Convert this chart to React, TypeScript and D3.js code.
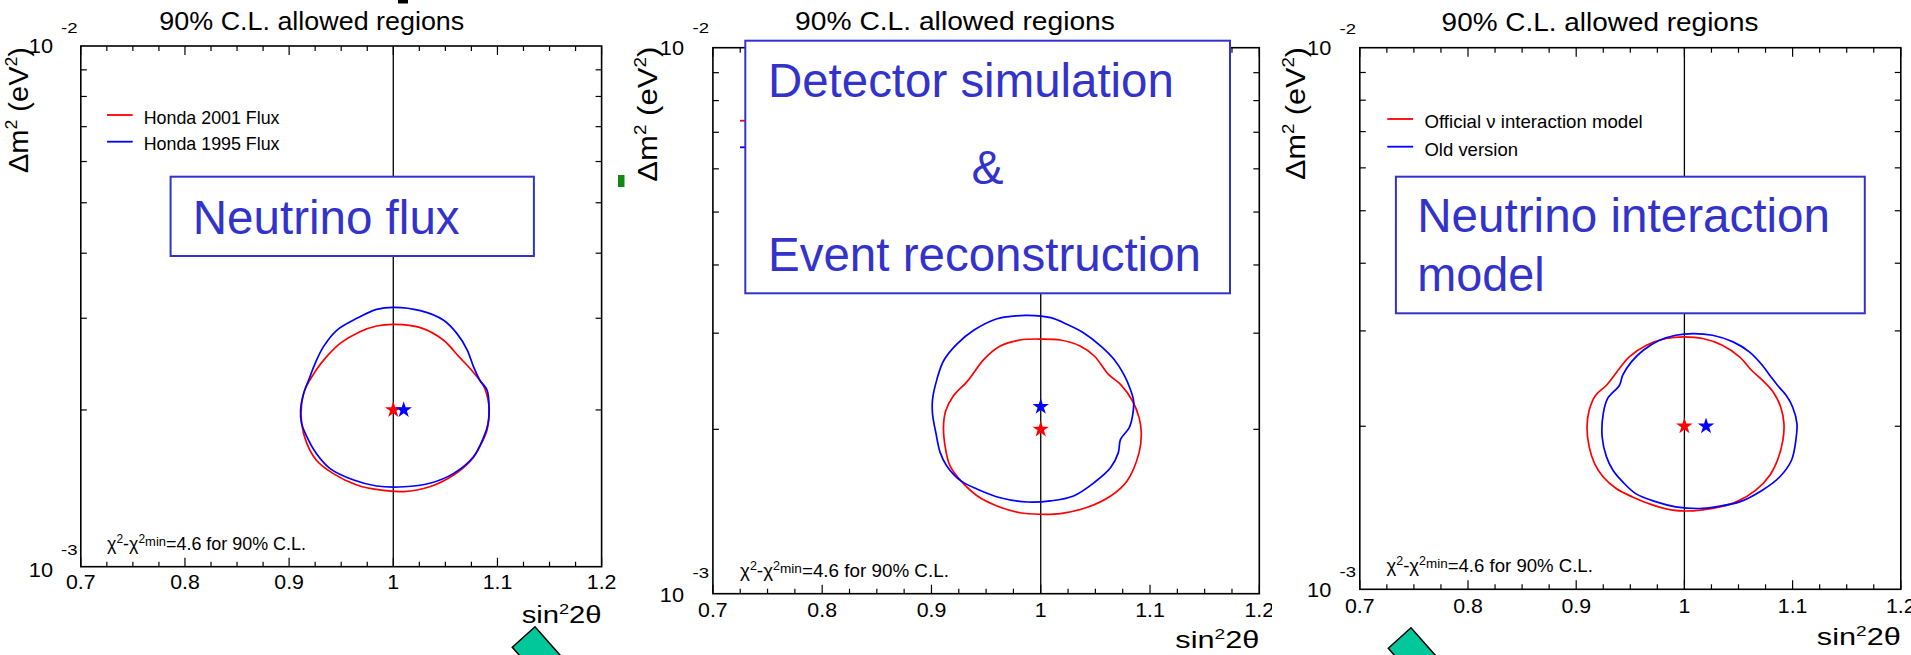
import React, { useLayoutEffect, useRef } from 'react';
import * as d3 from 'd3';

const WIDTH = 1911;
const HEIGHT = 655;
const FONT = "'Liberation Sans', Arial, Helvetica, sans-serif";
const BOX_BLUE = '#3333cc';

// axes
const xDomain = [0.7, 1.2];
const yDomain = [1e-3, 1e-2];
const xTicks = [0.7, 0.8, 0.9, 1, 1.1, 1.2];
const xTickLabels = ['0.7', '0.8', '0.9', '1', '1.1', '1.2'];
const titleText = '90% C.L. allowed regions';

// contours: [sin^2 2theta, dm^2 in 1e-3 eV^2]
const fluxRed = [
  [1.001, 2.92], [1.026, 2.878], [1.048, 2.725], [1.063, 2.532], [1.075, 2.386], [1.087, 2.217],
  [1.091, 2.09], [1.092, 1.999], [1.09, 1.83], [1.083, 1.7], [1.075, 1.603], [1.058, 1.5],
  [1.035, 1.424], [1.01, 1.394], [0.987, 1.404], [0.965, 1.435], [0.942, 1.511], [0.926, 1.603],
  [0.917, 1.725], [0.912, 1.885], [0.912, 2.059], [0.915, 2.184], [0.926, 2.386], [0.936, 2.532],
  [0.949, 2.685], [0.968, 2.827], [0.984, 2.899]
];
const fluxBlue = [
  [1.001, 3.149], [1.026, 3.103], [1.048, 2.977], [1.061, 2.806], [1.071, 2.607], [1.077, 2.422],
  [1.083, 2.283], [1.09, 2.184], [1.092, 1.999], [1.091, 1.885], [1.087, 1.777], [1.077, 1.626],
  [1.058, 1.511], [1.035, 1.446], [1.01, 1.424], [0.984, 1.429], [0.962, 1.467], [0.939, 1.545],
  [0.926, 1.651], [0.917, 1.777], [0.912, 1.885], [0.911, 1.999], [0.914, 2.152], [0.92, 2.317],
  [0.925, 2.458], [0.933, 2.646], [0.946, 2.848], [0.965, 2.999], [0.984, 3.121]
];
const detectorRed = [
  [1.0, 2.927], [1.018, 2.915], [1.036, 2.842], [1.049, 2.725], [1.062, 2.521], [1.073, 2.417],
  [1.084, 2.254], [1.09, 2.101], [1.092, 1.972], [1.09, 1.813], [1.079, 1.609], [1.064, 1.51],
  [1.042, 1.438], [1.018, 1.402], [1.0, 1.398], [0.981, 1.407], [0.96, 1.448], [0.942, 1.51],
  [0.927, 1.609], [0.917, 1.714], [0.913, 1.838], [0.911, 2.014], [0.913, 2.161], [0.92, 2.302],
  [0.933, 2.451], [0.948, 2.687], [0.963, 2.842], [0.981, 2.915]
];
const detectorBlue = [
  [0.988, 3.234], [1.009, 3.203], [1.024, 3.114], [1.039, 3.006], [1.055, 2.842], [1.067, 2.687],
  [1.076, 2.521], [1.082, 2.368], [1.085, 2.254], [1.084, 2.116], [1.081, 2.014], [1.073, 1.917],
  [1.071, 1.813], [1.064, 1.702], [1.049, 1.598], [1.03, 1.51], [1.009, 1.479], [0.988, 1.472],
  [0.963, 1.499], [0.942, 1.554], [0.927, 1.609], [0.914, 1.714], [0.908, 1.813], [0.904, 1.972],
  [0.901, 2.131], [0.901, 2.27], [0.905, 2.469], [0.911, 2.668], [0.923, 2.862], [0.939, 3.04],
  [0.96, 3.189], [0.975, 3.225]
];
const interactionRed = [
  [1.0, 2.924], [1.017, 2.904], [1.035, 2.822], [1.051, 2.686], [1.062, 2.538], [1.072, 2.433],
  [1.082, 2.314], [1.089, 2.171], [1.092, 2.023], [1.091, 1.884], [1.086, 1.731], [1.079, 1.624],
  [1.066, 1.524], [1.048, 1.45], [1.026, 1.41], [1.008, 1.396], [0.989, 1.4], [0.971, 1.43],
  [0.952, 1.481], [0.937, 1.535], [0.925, 1.612], [0.917, 1.707], [0.912, 1.832], [0.91, 1.994],
  [0.912, 2.141], [0.918, 2.282], [0.928, 2.381], [0.94, 2.556], [0.949, 2.686], [0.965, 2.822],
  [0.983, 2.904]
];
const interactionBlue = [
  [1.008, 2.966], [1.026, 2.945], [1.045, 2.863], [1.06, 2.744], [1.072, 2.593], [1.08, 2.467],
  [1.086, 2.381], [1.094, 2.282], [1.1, 2.171], [1.104, 2.023], [1.103, 1.884], [1.099, 1.731],
  [1.088, 1.612], [1.072, 1.524], [1.051, 1.45], [1.029, 1.42], [1.014, 1.41], [0.992, 1.42],
  [0.974, 1.45], [0.955, 1.502], [0.943, 1.579], [0.934, 1.659], [0.928, 1.756], [0.924, 1.911],
  [0.925, 2.111], [0.929, 2.25], [0.94, 2.381], [0.943, 2.485], [0.951, 2.63], [0.962, 2.763],
  [0.977, 2.883], [0.992, 2.945]
];

// best fit points (red, blue)
const fluxBest = [[1.0, 2.0], [1.01, 2.0]];
const detectorBest = [[1.0, 2.0], [1.0, 2.2]];
const interactionBest = [[1.0, 2.0], [1.02, 2.0]];

const fluxLegend = ['Honda 2001 Flux', 'Honda 1995 Flux'];
const detectorLegend = ['', ''];
const interactionLegend = ['Official \u03bd interaction model', 'Old version'];

const fluxBox = ['Neutrino flux'];
const detectorBox = ['Detector simulation', '&', 'Event reconstruction'];
const interactionBox = ['Neutrino interaction', 'model'];

// text that stretches itself to a measured width
const FitText = ({ x, y, w, sx, size, anchor = 'start', fill = '#000', rotate = 0, children }: any) => {
  const ref = useRef<SVGTextElement>(null);
  useLayoutEffect(() => {
    const el = ref.current;
    if (!el) return;
    el.removeAttribute('transform');
    let s = sx ?? 1;
    if (w) {
      const bw = el.getBBox().width;
      if (bw > 0) s = w / bw;
    }
    el.setAttribute('transform', `scale(${s},1)`);
  });
  return (
    <g transform={`translate(${x},${y})` + (rotate ? ` rotate(${rotate})` : '')}>
      <text ref={ref} x={0} y={0} fontSize={size} textAnchor={anchor} fill={fill}
        fontFamily={FONT} style={{ whiteSpace: 'pre' }}>{children}</text>
    </g>
  );
};

const layouts = [
  {
    left: 80.8, right: 601.6, top: 46, bottom: 566.7,
    title: { x: 311.8, y: 30, w: 305 },
    ylab: { x: 28, y: 173, w: 126 },
    tickBase: 589,
    sin: { x: 601.6, y: 623.3, w: 80 },
    top10: { x: 53, y: 53 }, topExp: { x: 77.5, y: 33 },
    bot10: { x: 53, y: 576.7 }, botExp: { x: 77.5, y: 555 },
    chi: { x: 107, y: 550, w: 199 },
    legend: { x1: 107, x2: 132.7, ly: [115, 141.7], tx: 143.7, ty: [124, 150], w: [136, 136] },
    box: { x: 170.6, y: 176.7, w: 363.3, h: 79.3 },
    boxLines: [{ x: 192.7, y: 234, w: 267 }]
  },
  {
    left: 712.9, right: 1259.3, top: 47.7, bottom: 593.7,
    title: { x: 955, y: 30, w: 320 },
    ylab: { x: 657, y: 181.7, w: 135 },
    tickBase: 616.7,
    sin: { x: 1259.3, y: 648, w: 84 },
    top10: { x: 684, y: 55 }, topExp: { x: 709, y: 33 },
    bot10: { x: 684, y: 601.7 }, botExp: { x: 709, y: 578.3 },
    chi: { x: 740, y: 576.7, w: 209 },
    legend: { x1: 740, x2: 766, ly: [120.7, 147.3], tx: 776, ty: [130, 156], w: [0, 0] },
    box: { x: 745.3, y: 40.7, w: 484.7, h: 252.6 },
    boxLines: [{ x: 768, y: 97.3, w: 406 }, { x: 987.4, y: 184.3, anchor: 'middle' }, { x: 768, y: 270.7, w: 433 }]
  },
  {
    left: 1359.8, right: 1900.8, top: 47.7, bottom: 589.3,
    title: { x: 1600, y: 30.7, w: 317 },
    ylab: { x: 1304.8, y: 180, w: 133 },
    tickBase: 613.3,
    sin: { x: 1900.8, y: 645, w: 84 },
    top10: { x: 1331.3, y: 55 }, topExp: { x: 1356, y: 34 },
    bot10: { x: 1331.3, y: 597 }, botExp: { x: 1356, y: 577 },
    chi: { x: 1386.5, y: 571.7, w: 206.5 },
    legend: { x1: 1387.3, x2: 1413.1, ly: [119, 146.7], tx: 1424.5, ty: [128.3, 155.7], w: [218.4, 93.5] },
    box: { x: 1395.9, y: 176.7, w: 468.9, h: 136.6 },
    boxLines: [{ x: 1417.2, y: 232.3, w: 413 }, { x: 1417.2, y: 291, w: 127.5 }]
  }
];

const Panel = ({ cfg, red, blue, best, legend, boxText }: any) => {
  const { left, right, top, bottom } = cfg;
  const x = d3.scaleLinear().domain(xDomain).range([left, right]);
  const y = d3.scaleLog().domain(yDomain).range([bottom, top]);
  const contour = d3.line<number[]>()
    .x(d => x(d[0]))
    .y(d => y(d[1] * 1e-3))
    .curve(d3.curveCatmullRomClosed.alpha(0.5));
  const minorX = d3.range(0, 21).map(i => 0.7 + i * 0.025);
  const yTicks = y.ticks().filter(v => v > 1.5e-3 && v < 9.5e-3);
  const star = d3.symbol(d3.symbolStar, 85)() as string;
  const colors = ['#ff0000', '#0000ff'];

  return (
    <g>
      <rect x={left} y={top} width={right - left} height={bottom - top} fill="#fff" stroke="#000" strokeWidth={1.6} />
      {minorX.map((v, i) => {
        const len = i % 4 === 0 ? 9 : 5;
        return (
          <g key={'xt' + i} stroke="#000" strokeWidth={1.2}>
            <line x1={x(v)} x2={x(v)} y1={top} y2={top + len} />
            <line x1={x(v)} x2={x(v)} y1={bottom} y2={bottom - len} />
          </g>
        );
      })}
      {yTicks.map((v, i) => (
        <g key={'yt' + i} stroke="#000" strokeWidth={1.2}>
          <line x1={left} x2={left + 6} y1={y(v)} y2={y(v)} />
          <line x1={right} x2={right - 6} y1={y(v)} y2={y(v)} />
        </g>
      ))}
      <line x1={x(1)} x2={x(1)} y1={top} y2={bottom} stroke="#000" strokeWidth={1.3} />
      <path d={contour(red) as string} fill="none" stroke={colors[0]} strokeWidth={1.7} />
      <path d={contour(blue) as string} fill="none" stroke={colors[1]} strokeWidth={1.7} />
      {best.map((p: number[], i: number) => (
        <path key={'s' + i} d={star} transform={`translate(${x(p[0])},${y(p[1] * 1e-3)})`} fill={colors[i]} />
      ))}
      {legend.map((t: string, i: number) => (
        <g key={'lg' + i}>
          <line x1={cfg.legend.x1} x2={cfg.legend.x2} y1={cfg.legend.ly[i]} y2={cfg.legend.ly[i]} stroke={colors[i]} strokeWidth={1.8} />
          {t && <FitText x={cfg.legend.tx} y={cfg.legend.ty[i]} w={cfg.legend.w[i]} size={18}>{t}</FitText>}
        </g>
      ))}
      <rect x={cfg.box.x} y={cfg.box.y} width={cfg.box.w} height={cfg.box.h} fill="#fff" stroke={BOX_BLUE} strokeWidth={2} />
      {boxText.map((t: string, i: number) => {
        const b = cfg.boxLines[i];
        return (
          <FitText key={'bx' + i} x={b.x} y={b.y} w={b.w} size={48} anchor={b.anchor || 'start'} fill={BOX_BLUE}>{t}</FitText>
        );
      })}
      <FitText x={cfg.chi.x} y={cfg.chi.y} w={cfg.chi.w} size={18}>
        {'\u03c7'}<tspan dy={-7} fontSize={12}>2</tspan><tspan dy={7}>-{'\u03c7'}</tspan>
        <tspan dy={-7} fontSize={12}>2</tspan><tspan dy={3} fontSize={13}>min</tspan>
        <tspan dy={4}>=4.6 for 90% C.L.</tspan>
      </FitText>
      {xTicks.map((v, i) => (
        <FitText key={'xl' + i} x={x(v)} y={cfg.tickBase} sx={1.04} size={20.5} anchor="middle">{xTickLabels[i]}</FitText>
      ))}
      <FitText x={cfg.top10.x} y={cfg.top10.y} w={24.4} size={19.5} anchor="end">10</FitText>
      <FitText x={cfg.topExp.x} y={cfg.topExp.y} w={16.5} size={14.5} anchor="end">-2</FitText>
      <FitText x={cfg.bot10.x} y={cfg.bot10.y} w={24.4} size={19.5} anchor="end">10</FitText>
      <FitText x={cfg.botExp.x} y={cfg.botExp.y} w={16.5} size={14.5} anchor="end">-3</FitText>
      <FitText x={cfg.title.x} y={cfg.title.y} w={cfg.title.w} size={25} anchor="middle">{titleText}</FitText>
      <FitText x={cfg.ylab.x} y={cfg.ylab.y} w={cfg.ylab.w} size={28} rotate={-90}>
        {'\u0394m'}<tspan dy={-11} fontSize={17}>2</tspan><tspan dy={11}> (eV</tspan>
        <tspan dy={-11} fontSize={17}>2</tspan><tspan dy={11}>)</tspan>
      </FitText>
      <FitText x={cfg.sin.x} y={cfg.sin.y} w={cfg.sin.w} size={24} anchor="end">
        sin<tspan dy={-9} fontSize={15}>2</tspan><tspan dy={9}>2{'\u03b8'}</tspan>
      </FitText>
    </g>
  );
};

const Diamond = ({ tx, ty }: any) => {
  const lx = tx - 22.7, ly = ty + 20.6;
  const ux = 33.1, uy = 37.5;
  const pts = [[lx, ly], [tx, ty], [tx + ux, ty + uy], [lx + ux, ly + uy]];
  return <polygon points={pts.map(p => p.join(',')).join(' ')} fill="#00c89a" stroke="#000" strokeWidth={1.5} />;
};

export default function App() {
  return (
    <div>
      <style>{'body{margin:0}'}</style>
      <svg width={WIDTH} height={HEIGHT} style={{ display: 'block', background: '#fff' }}>
        <rect x={0} y={0} width={WIDTH} height={HEIGHT} fill="#fff" />
        {/* bits of the cropped slide heading */}
        <rect x={398} y={0} width={10} height={3.5} fill="#000" />
        <path d="M1318,0 L1328,0 Q1325,6 1314,6 L1313,3 Q1319,3 1318,0Z" fill="#000" />
        <Panel cfg={layouts[0]} red={fluxRed} blue={fluxBlue} best={fluxBest} legend={fluxLegend} boxText={fluxBox} />
        <Diamond tx={535} ty={626.7} />
        <rect x={618} y={175} width={6.5} height={12} fill="#128a12" />
        <Panel cfg={layouts[1]} red={detectorRed} blue={detectorBlue} best={detectorBest} legend={detectorLegend} boxText={detectorBox} />
        <rect x={1272} y={0} width={WIDTH - 1272} height={HEIGHT} fill="#fff" />
        <Panel cfg={layouts[2]} red={interactionRed} blue={interactionBlue} best={interactionBest} legend={interactionLegend} boxText={interactionBox} />
        <Diamond tx={1411} ty={627.7} />
      </svg>
    </div>
  );
}
